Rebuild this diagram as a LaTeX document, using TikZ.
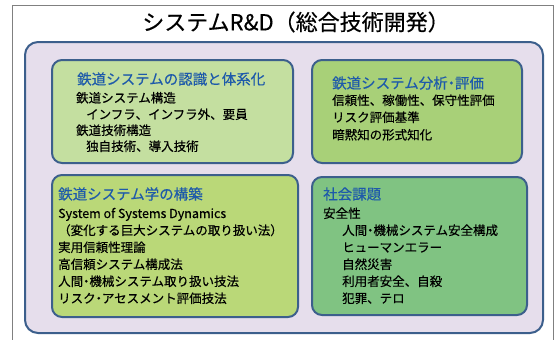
\documentclass[tikz,border=0pt]{standalone}
\usepackage{fontspec}
\setmainfont{Noto Sans CJK JP}[FakeBold=0.35]
\newcommand{\nkg}{{\addfontfeature{RawFeature=+palt}・}}
\definecolor{frame}{RGB}{128,128,128}
\definecolor{edge}{RGB}{60,95,140}
\definecolor{lav}{RGB}{230,222,236}
\definecolor{gA}{RGB}{196,223,160}
\definecolor{gB}{RGB}{168,208,120}
\definecolor{gC}{RGB}{186,216,120}
\definecolor{gD}{RGB}{128,195,130}
\definecolor{tblue}{RGB}{30,90,170}
\begin{document}
\begin{tikzpicture}[x=1pt,y=-1pt,
  panel/.style={draw=edge, line width=2pt, rounded corners=13pt, inner sep=0pt, outer sep=0pt},
  box/.style={draw=edge, line width=2pt, rounded corners=10pt, inner sep=0pt, outer sep=0pt},
  ttl/.style={anchor=base west, inner sep=0pt, text=tblue, font=\fontsize{14.5}{17}\selectfont},
  txt/.style={anchor=base west, inner sep=0pt, text=black, font=\fontsize{12.5}{15}\selectfont},
  head/.style={inner sep=0pt, font=\fontsize{22}{26}\selectfont}]
\useasboundingbox (0,0) rectangle (560,340);
\fill[white] (0,0) rectangle (560,340);
\draw[frame, line width=1pt] (12,340) -- (12,5) -- (553,5) -- (553,340);
\node[head] (head) at (296,22) {システムR\&D（総合技術開発）};
\node[panel, fill=lav, minimum width=518pt, minimum height=291pt] (panel) at (284,187.5) {};
% box 1
\node[box, fill=gA, minimum width=241pt, minimum height=103pt] (b1) at (172.5,111.5) {};
\node[ttl] (b1t) at (77,84.5) {鉄道システムの認識と体系化};
\node[txt] (b1a) at (76,102.5) {鉄道システム構造};
\node[txt] (b1b) at (86,119) {インフラ、インフラ外、要員};
\node[txt] (b1c) at (76,135) {鉄道技術構造};
\node[txt] (b1d) at (86,151) {独自技術、導入技術};
% box 2
\node[box, fill=gB, minimum width=210pt, minimum height=103pt] (b2) at (417,111.5) {};
\node[ttl] (b2t) at (332,88.5) {鉄道システム分析\nkg 評価};
\node[txt] (b2a) at (332,105) {信頼性、稼働性、保守性評価};
\node[txt] (b2b) at (332,122) {リスク評価基準};
\node[txt] (b2c) at (332,139.5) {暗黙知の形式知化};
% box 3
\node[box, fill=gC, minimum width=246pt, minimum height=142pt] (b3) at (175,246) {};
\node[ttl] (b3t) at (58,199.5) {鉄道システム学の構築};
\node[txt] (b3a) at (58,218) {System of Systems Dynamics};
\node[txt] (b3b) at (58,235) {（変化する巨大システムの取り扱い法）};
\node[txt] (b3c) at (58,252) {実用信頼性理論};
\node[txt] (b3d) at (58,269) {高信頼システム構成法};
\node[txt] (b3e) at (58,286) {人間\nkg 機械システム取り扱い技法};
\node[txt] (b3f) at (58,303) {リスク\nkg アセスメント評価技法};
% box 4
\node[box, fill=gD, minimum width=215pt, minimum height=138pt] (b4) at (419.5,246) {};
\node[ttl] (b4t) at (323,199.5) {社会課題};
\node[txt] (b4a) at (323,218) {安全性};
\node[txt] (b4b) at (342,235) {人間\nkg 機械システム安全構成};
\node[txt] (b4c) at (342,252) {ヒューマンエラー};
\node[txt] (b4d) at (342,269) {自然災害};
\node[txt] (b4e) at (342,286) {利用者安全、自殺};
\node[txt] (b4f) at (342,303) {犯罪、テロ};
\end{tikzpicture}
\end{document}
